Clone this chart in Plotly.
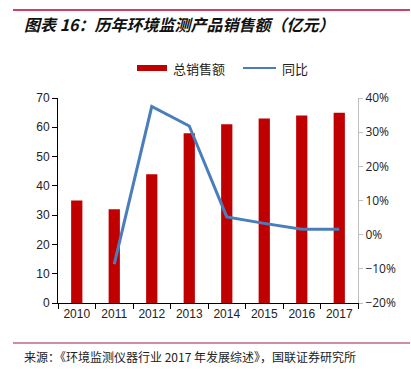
import plotly.graph_objects as go

years = ["2010", "2011", "2012", "2013", "2014", "2015", "2016", "2017"]
sales = [35, 32, 44, 58, 61, 63, 64, 65]
yoy_years = ["2011", "2012", "2013", "2014", "2015", "2016", "2017"]
yoy = [-8.6, 37.5, 31.8, 5.2, 3.3, 1.6, 1.6]

L, R, T, B = 58, 53, 98, 71
W, H = 411, 374
pw, ph = W - L - R, H - T - B

def px(x):
    return (x - L) / pw

def py(y):
    return (H - B - y) / ph

cjk = "Noto Sans CJK SC, Liberation Sans, sans-serif"

fig = go.Figure()
fig.add_trace(go.Bar(x=years, y=sales, name="总销售额", marker_color="#c00000",
                     marker_line_width=0, width=0.3, yaxis="y", showlegend=False))
fig.add_trace(go.Scatter(x=yoy_years, y=yoy, name="同比", mode="lines",
                         line=dict(color="#4a7ebb", width=3), yaxis="y2", showlegend=False))

fig.update_layout(
    width=W, height=H,
    margin=dict(l=L, r=R, t=T, b=B),
    paper_bgcolor="white", plot_bgcolor="white",
    showlegend=False,
    xaxis=dict(type="category", tickson="boundaries", ticks="outside", ticklen=5,
               tickcolor="#000", showline=True, linecolor="#000", linewidth=1,
               tickfont=dict(family="Liberation Sans, Arial", size=12, color="#222"),
               showgrid=False, range=[-0.5, 7.5]),
    yaxis=dict(range=[0, 70], dtick=10, ticks="outside", ticklen=5, tickcolor="#000",
               showline=True, linecolor="#000", linewidth=1, showgrid=False, zeroline=False,
               tickfont=dict(family="Liberation Sans, Arial", size=12, color="#222")),
    yaxis2=dict(range=[-20, 40], dtick=10, ticksuffix="%", overlaying="y", side="right",
                ticks="outside", ticklen=4, tickcolor="#bfbfbf",
                showline=True, linecolor="#bfbfbf", linewidth=1, showgrid=False, zeroline=False,
                tickfont=dict(family="Open Sans, Liberation Sans", size=12, color="#222")),
)

# custom legend
fig.add_shape(type="rect", xref="paper", yref="paper", x0=px(137), x1=px(167),
              y0=py(71), y1=py(65), fillcolor="#c00000", line=dict(width=0))
fig.add_annotation(xref="paper", yref="paper", x=px(171), y=py(68), xanchor="left",
                   yanchor="middle", showarrow=False, text="总销售额",
                   font=dict(family=cjk, size=13, color="#222"))
fig.add_shape(type="line", xref="paper", yref="paper", x0=px(243), x1=px(276),
              y0=py(68), y1=py(68), line=dict(color="#4a7ebb", width=2))
fig.add_annotation(xref="paper", yref="paper", x=px(280), y=py(68), xanchor="left",
                   yanchor="middle", showarrow=False, text="同比",
                   font=dict(family=cjk, size=13, color="#222"))

# top and bottom rules
fig.add_shape(type="rect", xref="paper", yref="paper", x0=px(13), x1=px(410),
              y0=py(11), y1=py(9), fillcolor="#d0405e", line=dict(width=0), layer="above")
fig.add_shape(type="line", xref="paper", yref="paper", x0=px(13), x1=px(410),
              y0=py(343), y1=py(343), line=dict(color="#a31d3c", width=1.2))

fig.add_annotation(xref="paper", yref="paper", x=px(22), y=py(24), xanchor="left",
                   yanchor="middle", showarrow=False,
                   text="<b><i>图表 16：历年环境监测产品销售额（亿元）</i></b>",
                   font=dict(family=cjk, size=16, color="#111"))
fig.add_annotation(xref="paper", yref="paper", x=px(22), y=py(356), xanchor="left",
                   yanchor="middle", showarrow=False,
                   text="来源：《环境监测仪器行业 2017 年发展综述》，国联证券研究所",
                   font=dict(family=cjk, size=12, color="#222"))

fig.write_html("out.html", config={"displayModeBar": False},
               post_script="document.body.style.margin='0';")
